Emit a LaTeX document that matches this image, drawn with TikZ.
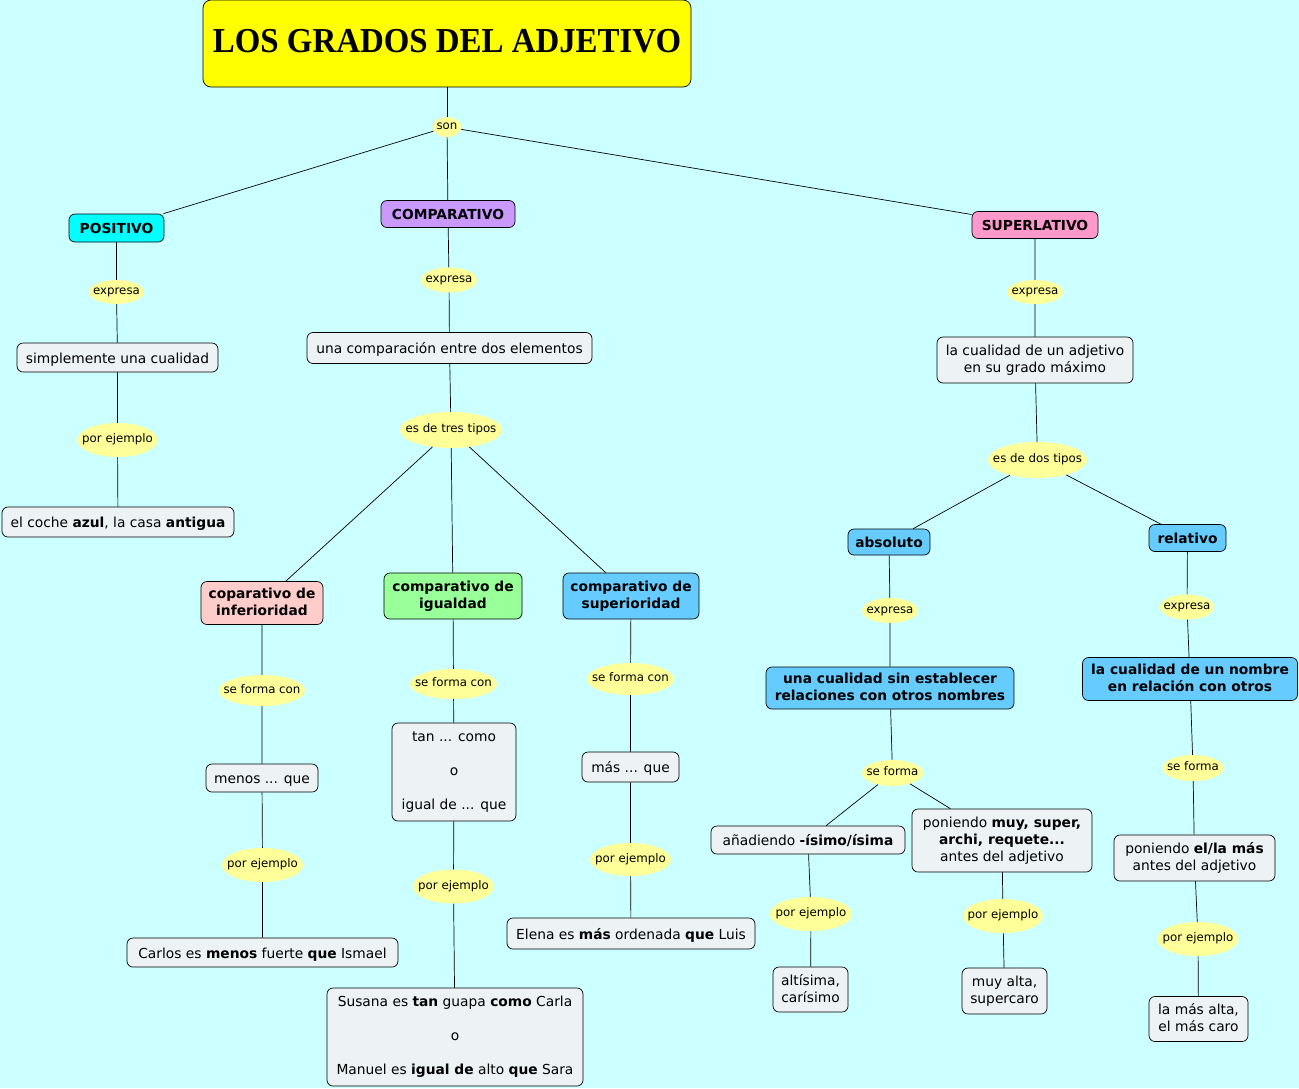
\documentclass[tikz,border=0pt]{standalone}
\usepackage{fontspec}
\usepackage{graphicx}
\setmainfont{DejaVu Sans}
\newfontfamily\titlefont{Liberation Serif}
\usetikzlibrary{shapes.geometric}
\definecolor{bgc}{HTML}{CCFFFF}
\definecolor{cbox}{HTML}{EDF2F4}
\definecolor{lyel}{HTML}{FFFF99}
\definecolor{tyel}{HTML}{FFFF00}
\definecolor{ccyan}{HTML}{00FFFF}
\definecolor{cpurp}{HTML}{C999FF}
\definecolor{cpink}{HTML}{FF99CC}
\definecolor{crose}{HTML}{FFCCCC}
\definecolor{cgreen}{HTML}{99FF99}
\definecolor{cblue}{HTML}{66CCFF}
\newcommand\mystrut{\rule[-3pt]{0pt}{17pt}}
\begin{document}
\begin{tikzpicture}[x=1pt,y=-1pt,
  box/.style={draw=black, line width=0.7pt, rounded corners=6pt, fill=cbox,
    inner xsep=3pt, inner ysep=3pt, align=center,
    font=\fontsize{13.8pt}{17pt}\selectfont,
    execute at begin node=\mystrut, execute at end node=\mystrut},
  bbox/.style={box, font=\fontsize{13.8pt}{17pt}\selectfont\bfseries},
  lbl/.style={ellipse, fill=lyel, draw=none, inner sep=0pt,
    font=\fontsize{11.8pt}{14pt}\selectfont,
    execute at begin node={\hbox to 0pt\bgroup\hss\strut},
    execute at end node={\hss\egroup}},
  ln/.style={draw=black, line width=0.7pt}]
\useasboundingbox (0,0) rectangle (1299,1088);
\fill[bgc] (0,0) rectangle (1299,1088);

% title
\node[draw=black, line width=0.7pt, fill=tyel, rounded corners=8pt,
  minimum width=488pt, minimum height=87pt, inner sep=0pt, text depth=6pt,
  font=\titlefont\bfseries\fontsize{35pt}{40pt}\selectfont]
  (title) at (447,43.5) {\scalebox{0.94}[1]{LOS GRADOS DEL ADJETIVO}};
\node[lbl, minimum width=29pt, minimum height=16pt] (son) at (447,127) {son};

% level 1
\node[bbox, fill=ccyan, minimum width=95pt, minimum height=28pt] (pos) at (116.5,228) {POSITIVO};
\node[bbox, fill=cpurp, minimum width=134pt, minimum height=27pt] (comp) at (448,214) {COMPARATIVO};
\node[bbox, fill=cpink, minimum width=126pt, minimum height=27pt] (sup) at (1035,225) {SUPERLATIVO};

% positivo
\node[lbl, minimum width=55pt, minimum height=24pt] (e1) at (116.5,292) {expresa};
\node[box, minimum width=201pt, minimum height=29pt] (c1) at (117.5,357.5) {simplemente una cualidad};
\node[lbl, minimum width=80pt, minimum height=34pt] (p1) at (117.5,440) {por ejemplo};
\node[box, minimum width=232pt, minimum height=30pt] (x1) at (118,522) {el coche \textbf{azul}, la casa \textbf{antigua}};

% comparativo
\node[lbl, minimum width=56pt, minimum height=25pt] (e2) at (449,280) {expresa};
\node[box, minimum width=285pt, minimum height=31pt] (c2) at (449.5,348) {una comparación entre dos elementos};
\node[lbl, minimum width=102pt, minimum height=36pt] (t3) at (451,430) {es de tres tipos};
\node[bbox, fill=crose, minimum width=122pt, minimum height=43pt] (inf) at (262,603) {coparativo de\\inferioridad};
\node[bbox, fill=cgreen, minimum width=138pt, minimum height=46pt] (igu) at (453,596) {comparativo de\\igualdad};
\node[bbox, fill=cblue, minimum width=136pt, minimum height=46pt] (supc) at (631,596) {comparativo de\\superioridad};
\node[lbl, minimum width=86pt, minimum height=31pt] (f1) at (262,690.5) {se forma con};
\node[lbl, minimum width=87pt, minimum height=30pt] (f2) at (453.5,684) {se forma con};
\node[lbl, minimum width=87pt, minimum height=32pt] (f3) at (630.5,679) {se forma con};
\node[box, minimum width=112pt, minimum height=28pt] (m1) at (262,778) {menos ... que};
\node[box, minimum width=124pt, minimum height=98pt] (m2) at (454,772) {tan ... como\\[17pt]o\\[17pt]igual de ... que};
\node[box, minimum width=97pt, minimum height=30pt] (m3) at (630.5,767) {más ... que};
\node[lbl, minimum width=81pt, minimum height=34pt] (p2) at (262.5,865) {por ejemplo};
\node[lbl, minimum width=81pt, minimum height=34pt] (p3) at (453.5,886.5) {por ejemplo};
\node[lbl, minimum width=81pt, minimum height=33pt] (p4) at (630.5,859.5) {por ejemplo};
\node[box, minimum width=271pt, minimum height=29pt] (x2) at (262.5,952.5) {Carlos es \textbf{menos} fuerte \textbf{que} Ismael};
\node[box, minimum width=256pt, minimum height=98pt] (x3) at (455,1037) {Susana es \textbf{tan} guapa \textbf{como} Carla\\[17pt]o\\[17pt]Manuel es \textbf{igual de} alto \textbf{que} Sara};
\node[box, minimum width=248pt, minimum height=31pt] (x4) at (631,933.5) {Elena es \textbf{más} ordenada \textbf{que} Luis};

% superlativo
\node[lbl, minimum width=56pt, minimum height=24pt] (e3) at (1035,292) {expresa};
\node[box, minimum width=196pt, minimum height=46pt] (c3) at (1035,360) {la cualidad de un adjetivo\\en su grado máximo};
\node[lbl, minimum width=99pt, minimum height=36pt] (t2) at (1037.5,460) {es de dos tipos};
\node[bbox, fill=cblue, minimum width=82pt, minimum height=26pt] (abs) at (889,542) {absoluto};
\node[bbox, fill=cblue, minimum width=77pt, minimum height=27pt] (rel) at (1187.5,538) {relativo};
\node[lbl, minimum width=56pt, minimum height=25pt] (e4) at (890,610.5) {expresa};
\node[bbox, fill=cblue, minimum width=248pt, minimum height=42pt] (c4) at (890,688) {una cualidad sin establecer\\relaciones con otros nombres};
\node[lbl, minimum width=61pt, minimum height=26pt] (f4) at (892.5,773) {se forma};
\node[box, minimum width=194pt, minimum height=28pt] (a1) at (808,840) {añadiendo \textbf{-ísimo/ísima}};
\node[box, minimum width=180pt, minimum height=63pt] (a2) at (1002,840.5) {poniendo \textbf{muy, super,}\\\textbf{archi, requete...}\\antes del adjetivo};
\node[lbl, minimum width=82pt, minimum height=34pt] (p5) at (811,914) {por ejemplo};
\node[lbl, minimum width=80pt, minimum height=34pt] (p6) at (1003,916) {por ejemplo};
\node[box, minimum width=75pt, minimum height=45pt] (y1) at (810.5,989.5) {altísima,\\carísimo};
\node[box, minimum width=85pt, minimum height=46pt] (y2) at (1004.5,991) {muy alta,\\supercaro};
\node[lbl, minimum width=54pt, minimum height=25pt] (e5) at (1187,607) {expresa};
\node[bbox, fill=cblue, minimum width=215pt, minimum height=43pt] (c5) at (1190,679) {la cualidad de un nombre\\en relación con otros};
\node[lbl, minimum width=61pt, minimum height=26pt] (f5) at (1193,768) {se forma};
\node[box, minimum width=161pt, minimum height=46pt] (r1) at (1194.5,858) {poniendo \textbf{el/la más}\\antes del adjetivo};
\node[lbl, minimum width=81pt, minimum height=34pt] (p7) at (1198,939) {por ejemplo};
\node[box, minimum width=99pt, minimum height=45pt] (r2) at (1198.5,1019) {la más alta,\\el más caro};

% connectors
\draw[ln] (title) -- (son);
\draw[ln] (son) -- (pos);
\draw[ln] (son) -- (comp);
\draw[ln] (son) -- (sup);
\draw[ln] (pos) -- (e1) -- (c1) -- (p1) -- (x1);
\draw[ln] (comp) -- (e2) -- (c2) -- (t3);
\draw[ln] (t3) -- (inf);
\draw[ln] (t3) -- (igu);
\draw[ln] (t3) -- (supc);
\draw[ln] (inf) -- (f1) -- (m1) -- (p2) -- (x2);
\draw[ln] (igu) -- (f2) -- (m2) -- (p3) -- (x3);
\draw[ln] (supc) -- (f3) -- (m3) -- (p4) -- (x4);
\draw[ln] (sup) -- (e3) -- (c3) -- (t2);
\draw[ln] (t2) -- (abs);
\draw[ln] (t2) -- (rel);
\draw[ln] (abs) -- (e4) -- (c4) -- (f4);
\draw[ln] (f4) -- (a1);
\draw[ln] (f4) -- (a2);
\draw[ln] (a1) -- (p5) -- (y1);
\draw[ln] (a2) -- (p6) -- (y2);
\draw[ln] (rel) -- (e5) -- (c5) -- (f5) -- (r1) -- (p7) -- (r2);
\end{tikzpicture}
\end{document}
